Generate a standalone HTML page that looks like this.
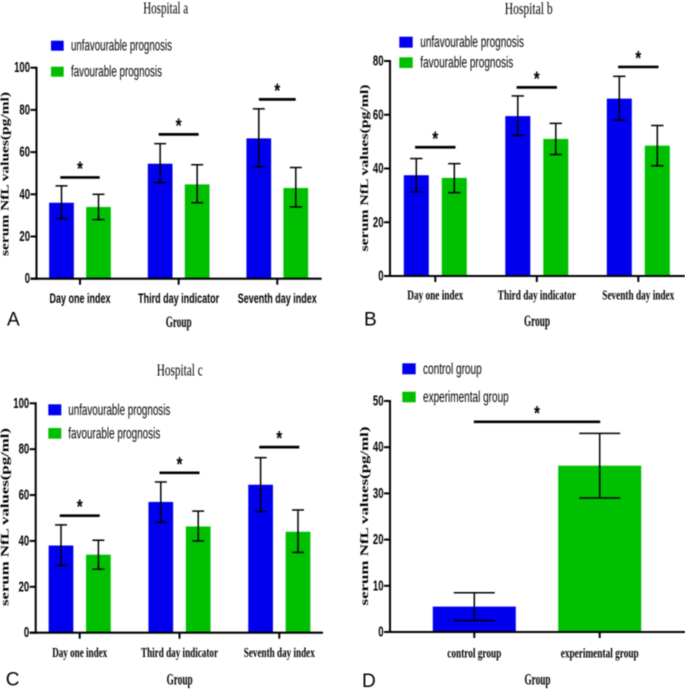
<!DOCTYPE html>
<html lang="en">
<head>
<meta charset="utf-8">
<title>Serum NfL values by hospital and group</title>
<style>
html,body{margin:0;padding:0;background:#fff;width:685px;height:691px;overflow:hidden}
svg{display:block;filter:blur(0.4px)}
text{fill:#000}
.sans{font-family:"Liberation Sans",sans-serif}
.serif{font-family:"Liberation Serif",serif}
</style>
</head>
<body>
<svg id="figure" xmlns="http://www.w3.org/2000/svg" width="685" height="691" viewBox="0 0 685 691"></svg>
<script>
/* ---------- data ---------- */
const threeDayCategories = ['Day one index', 'Third day indicator', 'Seventh day index'];
const prognosisLegend = ['unfavourable prognosis', 'favourable prognosis'];
const groupCategories = ['control group', 'experimental group'];

const ticksTo100 = [0, 20, 40, 60, 80, 100];
const ticksTo80 = [0, 20, 40, 60, 80];
const ticksTo50 = [0, 10, 20, 30, 40, 50];

const aUnfav = [36, 54.5, 66.5];
const aUnfavUpper = [44, 64, 80.5];
const aUnfavLower = [28.5, 45.5, 53];
const aFav = [34, 44.7, 43];
const aFavUpper = [40, 54, 52.7];
const aFavLower = [28, 36, 34];
const aSig = [48, 68.4, 85];

const bUnfav = [37.5, 59.5, 66];
const bUnfavUpper = [43.7, 67, 74.3];
const bUnfavLower = [31.3, 52.3, 58];
const bFav = [36.5, 51, 48.5];
const bFavUpper = [41.8, 56.8, 56];
const bFavLower = [31, 45.2, 41];
const bSig = [47.9, 70.2, 77.8];

const cUnfav = [38, 57, 64.5];
const cUnfavUpper = [47, 65.7, 76.3];
const cUnfavLower = [29.3, 48.2, 52.8];
const cFav = [34, 46.3, 44];
const cFavUpper = [40.3, 53, 53.5];
const cFavLower = [27.7, 40, 35];
const cSig = [51, 69.7, 80.9];

const dValues = [5.5, 36];
const dUpper = [8.5, 43];
const dLower = [2.5, 29];
const dSig = [45.5];

/* ---------- helpers ---------- */
const NS = 'http://www.w3.org/2000/svg';
const BLUE = '#0000ee';
const GREEN = '#00bf00';
const root = document.getElementById('figure');

function label(el, name) {
  
  
  return el;
}
function shape(parent, tag, attrs, name) {
  const el = document.createElementNS(NS, tag);
  for (const k in attrs) el.setAttribute(k, attrs[k]);
  parent.appendChild(el);
  return label(el, name);
}
function line(parent, x1, y1, x2, y2, w, name) {
  return shape(parent, 'line', {x1, y1, x2, y2, stroke: '#000', 'stroke-width': w}, name);
}
function text(parent, str, x, y, o, name) {
  const a = {x, y, 'dominant-baseline': 'central', 'text-anchor': o.anchor || 'middle',
    'font-size': o.size, class: o.cls || 'sans', 'font-weight': o.bold ? 'bold' : 'normal'};
  if (o.len) { a.textLength = o.len; a.lengthAdjust = 'spacingAndGlyphs'; }
  if (o.rotate) a.transform = 'rotate(-90 ' + x + ' ' + y + ')';
  const el = shape(parent, 'text', a, name);
  el.textContent = str;
  return el;
}
function slug(s) { return s.toLowerCase().replace(/[^a-z0-9]+/g, '-'); }

function drawPanel(p) {
  const g = shape(root, 'g', {}, 'panel-' + p.id);
  const yScale = v => p.y0 - (v / p.yMax) * (p.y0 - p.yTop);
  const xCenter = i => p.cx0 + p.step * i;

  /* bars, drawn first so error bars and axes sit on top */
  p.series.forEach((s, si) => {
    s.values.forEach((v, i) => {
      const c = xCenter(i) + s.offset;
      shape(g, 'rect', {x: c - p.barW / 2, y: yScale(v), width: p.barW, height: p.y0 - yScale(v), fill: s.color},
        'bar-' + p.id + '-' + si + '-' + slug(p.categories[s.catIndex ? s.catIndex(i) : i]));
    });
  });
  p.series.forEach(s => {
    s.values.forEach((v, i) => {
      const c = xCenter(i) + s.offset;
      const hi = yScale(s.upper[i]);
      const lo = yScale(s.lower[i]);
      line(g, c, hi, c, lo, p.errW, 'error-bar-stem');
      line(g, c - p.cap, hi, c + p.cap, hi, p.errW, 'error-bar-cap-upper');
      line(g, c - p.cap, lo, c + p.cap, lo, p.errW, 'error-bar-cap-lower');
    });
  });

  /* axes */
  line(g, p.x0, p.yTop - 1, p.x0, p.y0 + 1, 2, 'y-axis');
  line(g, p.x0 - 6, p.y0, p.xEnd, p.y0, 2.1, 'x-axis');
  p.ticks.forEach(t => {
    const y = yScale(t);
    line(g, p.x0 - 6, y, p.x0, y, 2, 'y-tick');
    text(g, String(t), p.x0 - 6.5, y, {anchor: 'end', size: 15, bold: true, len: String(t).length * 5.3}, 'y-tick-label');
  });
  p.categories.forEach((c, i) => {
    line(g, xCenter(i), p.y0, xCenter(i), p.y0 + 6, 2, 'x-tick');
    text(g, c, xCenter(i), p.catY, {size: 14, bold: true, cls: p.catCls, len: p.catLen[i]}, 'x-tick-label-' + slug(c));
  });

  /* significance bars */
  p.sig.forEach((v, i) => {
    const c = p.sigCx ? p.sigCx : xCenter(i);
    const y = yScale(v);
    line(g, c - p.sigHalf[i], y, c + p.sigHalf[i], y, 2.7, 'significance-bar');
    text(g, '*', c, y - 8, {size: 20, bold: true, len: 6}, 'significance-star');
  });

  /* titles and labels */
  if (p.title) text(g, p.title, p.titleX, p.titleY, {size: 17, cls: 'serif', len: p.titleLen}, 'chart-title');
  text(g, 'serum NfL values(pg/ml)', p.yTitleX, p.yTitleY,
    {size: 11.5, bold: true, cls: 'serif', len: p.yTitleLen, rotate: true}, 'y-axis-title');
  text(g, 'Group', p.groupX, p.groupY, {size: 15.5, bold: true, cls: 'serif', len: 26}, 'x-axis-title');
  text(g, p.id.toUpperCase(), p.letterX, p.letterY, {size: 19, anchor: 'start'}, 'panel-letter');

  /* legend */
  p.legend.forEach((name, i) => {
    const e = p.legendItems[i];
    const lg = shape(g, 'g', {}, 'legend-entry-' + slug(name));
    shape(lg, 'rect', {x: e.x, y: e.y, width: e.w, height: e.h, fill: i ? GREEN : BLUE}, 'legend-swatch');
    text(lg, name, e.tx, e.y + e.h / 2 + 0.5, {anchor: 'start', size: 16, len: e.len, cls: 'sans'}, 'legend-label');
  });
}

/* ---------- panels ---------- */
drawPanel({
  id: 'a', x0: 36.5, xEnd: 321.7, y0: 278.7, yTop: 67.7, yMax: 100, ticks: ticksTo100,
  cx0: 80, step: 98.65, barW: 24.7, cap: 6, errW: 1.5,
  categories: threeDayCategories, catY: 298, catCls: 'sans', catLen: [61, 81, 79],
  series: [
    {values: aUnfav, upper: aUnfavUpper, lower: aUnfavLower, offset: -18.5, color: BLUE},
    {values: aFav, upper: aFavUpper, lower: aFavLower, offset: 18.5, color: GREEN}
  ],
  sig: aSig, sigHalf: [19.7, 20, 18.4],
  title: 'Hospital a', titleX: 165.7, titleY: 8, titleLen: 45,
  yTitleX: 5.5, yTitleY: 174, yTitleLen: 164, groupX: 178.7, groupY: 322.7, letterX: 7, letterY: 320,
  legend: prognosisLegend,
  legendItems: [
    {x: 51, y: 40.7, w: 12.7, h: 10, tx: 71, len: 101},
    {x: 51, y: 66.7, w: 12.7, h: 10, tx: 71, len: 91}
  ]
});

drawPanel({
  id: 'b', x0: 390, xEnd: 685, y0: 276, yTop: 61, yMax: 80, ticks: ticksTo80,
  cx0: 435.3, step: 101.5, barW: 25, cap: 6.2, errW: 1.5,
  categories: threeDayCategories, catY: 296, catCls: 'serif', catLen: [56, 78, 72],
  series: [
    {values: bUnfav, upper: bUnfavUpper, lower: bUnfavLower, offset: -19, color: BLUE},
    {values: bFav, upper: bFavUpper, lower: bFavLower, offset: 19, color: GREEN}
  ],
  sig: bSig, sigHalf: [20.2, 20.2, 20.2],
  title: 'Hospital b', titleX: 528.7, titleY: 8.5, titleLen: 48,
  yTitleX: 365, yTitleY: 168, yTitleLen: 167, groupX: 537, groupY: 321.7, letterX: 364, letterY: 320,
  legend: prognosisLegend,
  legendItems: [
    {x: 399.3, y: 36.7, w: 13.4, h: 11, tx: 420.3, len: 103.7},
    {x: 399.3, y: 57.3, w: 13.4, h: 10.7, tx: 420.3, len: 93}
  ]
});

drawPanel({
  id: 'c', x0: 35.7, xEnd: 323, y0: 632.7, yTop: 403.3, yMax: 100, ticks: ticksTo100,
  cx0: 79.7, step: 99.8, barW: 24.7, cap: 6, errW: 1.5,
  categories: threeDayCategories, catY: 653.7, catCls: 'serif', catLen: [55, 77, 71],
  series: [
    {values: cUnfav, upper: cUnfavUpper, lower: cUnfavLower, offset: -18.7, color: BLUE},
    {values: cFav, upper: cFavUpper, lower: cFavLower, offset: 18.7, color: GREEN}
  ],
  sig: cSig, sigHalf: [20, 20, 20],
  title: 'Hospital c', titleX: 179.7, titleY: 370, titleLen: 46,
  yTitleX: 5.5, yTitleY: 517, yTitleLen: 178, groupX: 179.6, groupY: 680, letterX: 5.7, letterY: 680,
  legend: prognosisLegend,
  legendItems: [
    {x: 48.3, y: 404.3, w: 13, h: 11, tx: 68.3, len: 102},
    {x: 48.3, y: 428, w: 13, h: 10.7, tx: 68.3, len: 92}
  ]
});

/* panel D: one series per category, each with its own colour */
(function () {
  const yTop = 401, y0 = 632, yMax = 50;
  drawPanel({
    id: 'd', x0: 390, xEnd: 685, y0, yTop, yMax, ticks: ticksTo50,
    cx0: 474.3, step: 125.4, barW: 83, cap: 20.5, errW: 1.5,
    categories: groupCategories, catY: 654, catCls: 'serif', catLen: [54, 78],
    series: [
      {values: dValues.slice(0, 1), upper: dUpper.slice(0, 1), lower: dLower.slice(0, 1), offset: 0, color: BLUE},
      {values: dValues.slice(1), upper: dUpper.slice(1), lower: dLower.slice(1), offset: 125.4, color: GREEN, catIndex: () => 1}
    ],
    sig: dSig, sigHalf: [63.2], sigCx: 537,
    title: '', yTitleX: 365, yTitleY: 516, yTitleLen: 179, groupX: 537.5, groupY: 680, letterX: 362, letterY: 681.7,
    legend: groupCategories,
    legendItems: [
      {x: 402.3, y: 363.3, w: 13.4, h: 11, tx: 423, len: 58.7},
      {x: 402.3, y: 391.7, w: 13.4, h: 10.6, tx: 423, len: 85.7}
    ]
  });
})();
</script>
</body>
</html>
